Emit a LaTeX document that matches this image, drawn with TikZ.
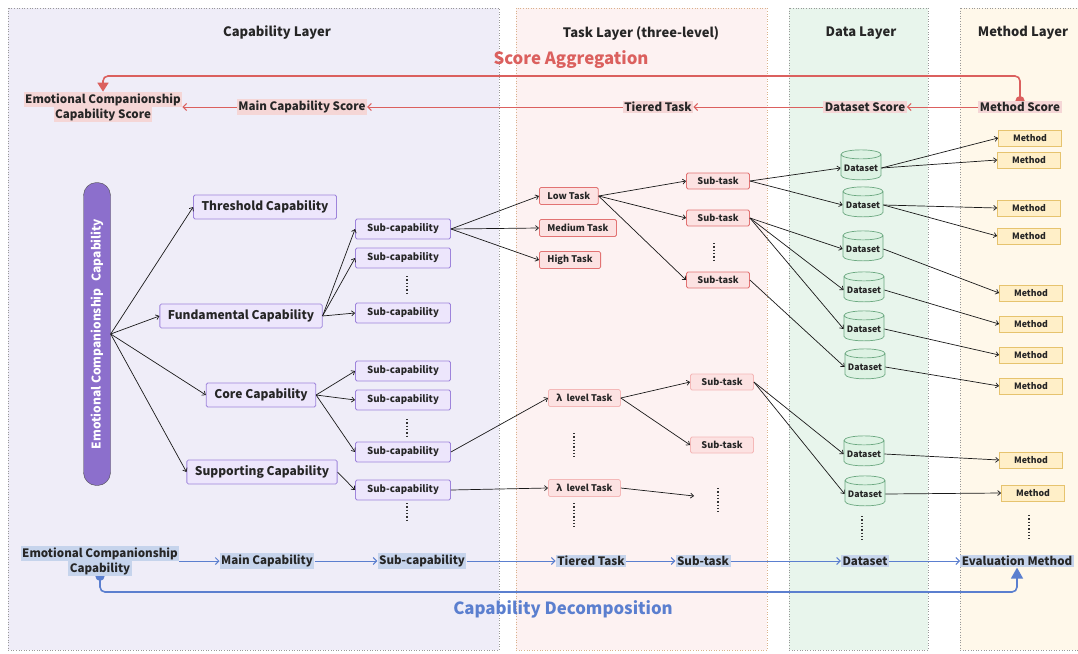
\documentclass[tikz,border=0pt]{standalone}
\usepackage{fontspec}
\setmainfont{Noto Sans CJK SC}
\usetikzlibrary{arrows.meta,shapes.geometric}

\definecolor{caplayer}{HTML}{EFEDF8}
\definecolor{tasklayer}{HTML}{FDF2F2}
\definecolor{datalayer}{HTML}{E8F5EC}
\definecolor{methlayer}{HTML}{FFF8EA}
\definecolor{capfill}{HTML}{EDE6FC}
\definecolor{capline}{HTML}{9E84DB}
\definecolor{pillfill}{HTML}{8C6FCC}
\definecolor{taskfill}{HTML}{FCE2E2}
\definecolor{taskline}{HTML}{E27373}
\definecolor{tasklight}{HTML}{F4B8B8}
\definecolor{setfill}{HTML}{DDF2E3}
\definecolor{setline}{HTML}{6BA880}
\definecolor{methfill}{HTML}{FFEFC8}
\definecolor{methline}{HTML}{E6C36E}
\definecolor{scorered}{HTML}{DB605E}
\definecolor{scorefill}{HTML}{F5D6D6}
\definecolor{decblue}{HTML}{5B7FCF}
\definecolor{decfill}{HTML}{C6D4EC}

\newcommand\fsz[1]{\fontsize{#1}{#1}\selectfont\bfseries}
\newcommand\hlred[1]{{\setlength\fboxsep{1.5pt}\colorbox{scorefill}{#1}}}
\newcommand\hlblue[1]{{\setlength\fboxsep{1.5pt}\colorbox{decfill}{#1}}}

\pgfdeclarelayer{back}
\pgfdeclarelayer{lines}
\pgfsetlayers{back,lines,main}

\tikzset{
  layer/.style={dotted, line width=0.6pt},
  laytitle/.style={font=\fsz{13}, text=black!85},
  mainbox/.style={draw=capline, fill=capfill, line width=0.8pt, rounded corners=1.5pt,
    minimum height=24, inner xsep=8, font=\fsz{12}, text=black!85},
  subcap/.style={mainbox, minimum width=95, minimum height=20, inner xsep=2, font=\fsz{9.7}},
  taskbox/.style={draw=taskline, fill=taskfill, line width=0.8pt, rounded corners=1.5pt,
    minimum height=17, inner xsep=8, font=\fsz{9.2}, text=black!85},
  tasklt/.style={taskbox, draw=tasklight},
  subtask/.style={taskbox, minimum width=63, minimum height=16, inner xsep=2},
  dataset/.style={cylinder, shape border rotate=90, aspect=0.25, draw=setline, fill=setfill,
    line width=0.7pt, minimum width=40, minimum height=30, inner sep=1, font=\fsz{8.8}, text=black!85},
  methbox/.style={draw=methline, fill=methfill, line width=0.8pt, minimum width=63,
    minimum height=16, inner sep=1, font=\fsz{8.8}, text=black!85},
  scorelbl/.style={inner sep=0, align=center, font=\fsz{11.6}, text=black!85},
  link/.style={-{Straight Barb[length=3pt,width=5pt]}, line width=0.7pt, black!90},
  scorelink/.style={draw=scorered, -{Straight Barb[length=3.5pt,width=7pt]}, line width=1pt},
  declink/.style={draw=decblue, -{Straight Barb[length=3.5pt,width=7pt]}, line width=1pt},
  vdots/.style={line width=1.3pt, dash pattern=on 1.3pt off 2pt, black!80}
}

\begin{document}
\begin{tikzpicture}[x=1pt,y=-1pt]
\useasboundingbox (0,0) rectangle (1078,653);

% layers
\begin{pgfonlayer}{back}
\draw[layer, fill=caplayer, draw=gray!80] (8,8) rectangle (499,650);
\draw[layer, fill=tasklayer, draw=brown!60] (516,8) rectangle (767,650);
\draw[layer, fill=datalayer, draw=gray!80] (789,8) rectangle (928,650);
\draw[layer, fill=methlayer, draw=gray!80] (960,8) rectangle (1082,650);
\end{pgfonlayer}
\node[laytitle] (tcap) at (277,33) {Capability Layer};
\node[laytitle] (ttask) at (641,33) {Task Layer (three-level)};
\node[laytitle] (tdata) at (861,33) {Data Layer};
\node[laytitle] (tmeth) at (1023,33) {Method Layer};

% score aggregation
\node[scorelbl] (ecs) at (103,107) {\hlred{Emotional Companionship}\\[-1pt]\hlred{Capability Score}};
\node[scorelbl, fill=scorefill, inner sep=1.5] (mcs) at (302,107) {Main Capability Score};
\node[scorelbl, fill=scorefill, inner sep=1.5] (tts) at (658,107) {Tiered Task};
\node[scorelbl, fill=scorefill, inner sep=1.5] (dss) at (865,107) {Dataset Score};
\node[scorelbl, fill=scorefill, inner sep=1.5] (mts) at (1020,107) {Method Score};
\draw[scorelink] (mts) -- (dss);
\draw[scorelink] (dss) -- (tts);
\draw[scorelink] (tts) -- (mcs);
\draw[scorelink] (mcs.west) -- (ecs.east |- mcs.west);
\begin{pgfonlayer}{lines}
\draw[scorered, line width=1.6pt, rounded corners=5, shorten <=-4.5pt,
  {Circle[length=9pt,width=9pt]}-{Triangle[length=9pt,width=11pt]}]
  (mts.north) |- (103,76) -- (ecs.north);
\end{pgfonlayer}
\node[font=\fsz{16.8}, text=scorered] (agg) at (571,60) {Score Aggregation};

% capability tree
\node[rotate=90, draw=black!70, fill=pillfill, rounded corners=13, minimum width=303,
  minimum height=27, inner sep=0, text=white, font=\fsz{12}] (pill) at (97,334)
  {Emotional Companionship\hspace{7pt}Capability};
\node[mainbox] (th) at (265,207) {Threshold Capability};
\node[mainbox] (fu) at (241,316) {Fundamental Capability};
\node[mainbox] (co) at (261,395) {Core Capability};
\node[mainbox] (su) at (262,472) {Supporting Capability};
\foreach \n/\y in {sc1/229,sc2/258,sc3/313,sc4/371,sc5/400,sc6/452,sc7/490}
  \node[subcap] (\n) at (403,\y) {Sub-capability};
\foreach \b in {th,fu,co,su}
  \draw[link] (pill.south) -- (\b.west);
\foreach \a/\b in {fu/sc1,fu/sc2,fu/sc3,co/sc4,co/sc5,co/sc6,su/sc7}
  \draw[link] (\a.east) -- (\b.west);
\draw[vdots] (407,276) -- (407,293);
\draw[vdots] (407,419) -- (407,436);
\draw[vdots] (407,503) -- (407,520);

% task layer
\node[taskbox, anchor=west] (lo) at (539,196) {Low Task};
\node[taskbox, anchor=west] (me) at (539,228) {Medium Task};
\node[taskbox, anchor=west] (hi) at (539,260) {High Task};
\node[tasklt, anchor=west] (la1) at (548,398) {λ\ \ level Task};
\node[tasklt, anchor=west] (la2) at (548,488) {λ\ \ level Task};
\node[subtask] (st1) at (718,181) {Sub-task};
\node[subtask] (st2) at (718,218) {Sub-task};
\node[subtask] (st3) at (718,280) {Sub-task};
\node[subtask, draw=tasklight] (st4) at (722,382) {Sub-task};
\node[subtask, draw=tasklight] (st5) at (722,445) {Sub-task};
\coordinate (stx) at (694,496);
\foreach \b in {lo,me,hi}
  \draw[link] (sc1.east) -- (\b.west);
\draw[link] (sc6.east) -- (la1.west);
\draw[link] (sc7.east) -- (la2.west);
\foreach \a/\b in {lo/st1,lo/st2,lo/st3,la1/st4,la1/st5}
  \draw[link] (\a.east) -- (\b.west);
\draw[link] (la2.east) -- (stx);
\draw[vdots] (714,243) -- (714,260);
\draw[vdots] (574,433) -- (574,458);
\draw[vdots] (574,503) -- (574,528);
\draw[vdots] (718,488) -- (718,513);

% data layer
\foreach \n/\x/\y in {ds1/861/168,ds2/863/205,ds3/863/249,ds4/864/290,ds5/864/329,
    ds6/865/367,ds7/864/454,ds8/865/494}
  \node[dataset] (\n) at (\x,\y) {Dataset};
\foreach \a/\b in {st1/ds1,st1/ds2,st2/ds3,st2/ds4,st2/ds5,st3/ds6,st4/ds7,st4/ds8}
  \draw[link] (\a.east) -- (\b.west);
\draw[vdots] (862,516) -- (862,541);

% method layer
\foreach \n/\x/\y in {m1/1030/138,m2/1029/160,m3/1029/208,m4/1029/236,m5/1031/293,
    m6/1031/324,m7/1031/355,m8/1031/386,m9/1031/460,m10/1033/493}
  \node[methbox] (\n) at (\x,\y) {Method};
\foreach \a/\b in {ds1/m1,ds1/m2,ds2/m3,ds2/m4,ds3/m5,ds4/m6,ds5/m7,ds6/m8,ds7/m9,ds8/m10}
  \draw[link] (\a.east) -- (\b.west);
\draw[vdots] (1029,515) -- (1029,540);

% capability decomposition
\node[scorelbl] (ecc) at (100,561) {\hlblue{Emotional Companionship}\\[-1pt]\hlblue{Capability}};
\node[scorelbl, fill=decfill, inner sep=1.5] (mc) at (267,561) {Main Capability};
\node[scorelbl, fill=decfill, inner sep=1.5] (scb) at (422,561) {Sub-capability};
\node[scorelbl, fill=decfill, inner sep=1.5] (ttb) at (591,561) {Tiered Task};
\node[scorelbl, fill=decfill, inner sep=1.5] (stb) at (703,561) {Sub-task};
\node[scorelbl, fill=decfill, inner sep=1.5] (dsb) at (865,561) {Dataset};
\node[scorelbl, fill=decfill, inner sep=1.5] (evm) at (1017,561) {Evaluation Method};
\draw[declink] (ecc.east |- mc.west) -- (mc.west);
\foreach \a/\b in {mc/scb,scb/ttb,ttb/stb,stb/dsb,dsb/evm}
  \draw[declink] (\a) -- (\b);
\begin{pgfonlayer}{lines}
\draw[decblue, line width=1.6pt, rounded corners=5, shorten <=-4.5pt,
  {Circle[length=9pt,width=9pt]}-{Triangle[length=11pt,width=12pt]}]
  (ecc.south) |- (1017,592) -- (evm.south);
\end{pgfonlayer}
\node[font=\fsz{16.8}, text=decblue] (dec) at (563,609) {Capability Decomposition};
\end{tikzpicture}
\end{document}
